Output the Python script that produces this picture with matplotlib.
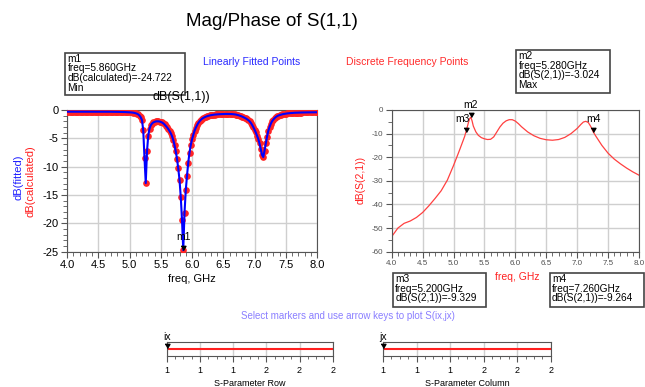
import numpy as np
import matplotlib.pyplot as plt
from matplotlib.patches import Rectangle
from matplotlib.ticker import MultipleLocator, FormatStrFormatter

plt.rcParams['font.family'] = ['Liberation Sans', 'DejaVu Sans']
plt.rcParams['axes.unicode_minus'] = False

W, H = 645, 387

# S(1,1): calculated points every 20 MHz from 4 to 8 GHz
freq11 = np.round(np.arange(4.0, 8.0001, 0.02), 2)
s11_db = [
    -0.30, -0.30, -0.30, -0.30, -0.30, -0.30, -0.30, -0.30, -0.30, -0.30,
    -0.30, -0.30, -0.30, -0.30, -0.30, -0.30, -0.30, -0.30, -0.30, -0.30,
    -0.30, -0.30, -0.30, -0.30, -0.30, -0.30, -0.30, -0.30, -0.30, -0.30,
    -0.31, -0.31, -0.31, -0.31, -0.31, -0.31, -0.32, -0.32, -0.32, -0.32,
    -0.33, -0.33, -0.34, -0.34, -0.35, -0.35, -0.36, -0.37, -0.38, -0.39,
    -0.40, -0.42, -0.44, -0.47, -0.52, -0.58, -0.66, -0.78, -0.98, -1.30,
    -1.80, -3.60, -8.50, -12.90, -7.30, -4.50, -3.30, -2.70, -2.40, -2.20,
    -2.10, -2.02, -2.00, -2.00, -2.03, -2.10, -2.20, -2.35, -2.55, -2.80,
    -3.05, -3.35, -3.70, -4.10, -4.60, -5.30, -6.20, -7.30, -8.60, -10.30,
    -12.30, -15.30, -19.40, -24.722, -18.20, -14.20, -11.60, -9.30, -7.50, -6.20,
    -5.20, -4.40, -3.70, -3.15, -2.70, -2.30, -2.00, -1.75, -1.55, -1.40,
    -1.28, -1.18, -1.10, -1.03, -0.97, -0.92, -0.88, -0.84, -0.81, -0.79,
    -0.77, -0.75, -0.74, -0.73, -0.72, -0.71, -0.70, -0.70, -0.70, -0.70,
    -0.70, -0.71, -0.72, -0.74, -0.77, -0.80, -0.85, -0.91, -0.98, -1.06,
    -1.15, -1.25, -1.36, -1.48, -1.62, -1.78, -1.98, -2.25, -2.60, -3.00,
    -3.45, -3.95, -4.50, -5.10, -5.90, -6.90, -7.90, -8.30, -7.20, -5.90,
    -4.70, -3.70, -3.00, -2.45, -2.00, -1.70, -1.45, -1.25, -1.10, -0.98,
    -0.90, -0.83, -0.77, -0.72, -0.68, -0.64, -0.61, -0.58, -0.56, -0.54,
    -0.52, -0.50, -0.49, -0.48, -0.47, -0.46, -0.45, -0.45, -0.44, -0.44,
    -0.43, -0.43, -0.42, -0.42, -0.42, -0.41, -0.41, -0.41, -0.40, -0.40,
    -0.40,
]

# S(2,1) discrete frequency points
freq21 = [4.00, 4.10, 4.20, 4.30, 4.40, 4.50, 4.60, 4.70, 4.80, 4.90,
          5.00, 5.06, 5.10, 5.14, 5.18, 5.20, 5.22, 5.24, 5.26, 5.28,
          5.30, 5.32, 5.36, 5.40, 5.45, 5.50, 5.55, 5.60, 5.65, 5.70,
          5.75, 5.80, 5.85, 5.90, 5.95, 6.00, 6.05, 6.10, 6.20, 6.30,
          6.40, 6.50, 6.60, 6.70, 6.80, 6.90, 7.00, 7.06, 7.10, 7.14,
          7.18, 7.22, 7.26, 7.30, 7.40, 7.50, 7.60, 7.70, 7.80, 7.90, 8.00]
s21_db = [-53.6, -50.0, -48.0, -47.0, -45.5, -43.4, -40.6, -37.5, -34.2, -29.7,
          -23.5, -19.5, -16.8, -14.0, -11.2, -9.329, -7.4, -5.4, -3.7, -3.024,
          -4.6, -6.8, -9.2, -10.7, -11.7, -12.2, -12.5, -12.4, -11.4, -9.3,
          -7.2, -5.6, -4.6, -4.1, -4.1, -4.7, -5.8, -7.1, -9.3, -10.9,
          -12.0, -12.6, -12.8, -12.5, -11.6, -10.0, -7.8, -6.1, -5.1, -4.8,
          -5.3, -7.0, -9.264, -11.0, -15.0, -18.3, -20.8, -22.8, -24.6, -26.2, -27.6]

markers11 = [('m1', 5.86, -24.722)]
markers21 = [('m2', 5.28, -3.024), ('m3', 5.20, -9.329), ('m4', 7.26, -9.264)]

slider_ticks = [1.0, 1.2, 1.4, 1.6, 1.8, 2.0]


def fx(px):
    return px / W


def fy(py):
    return 1 - py / H


def rect(x0, y0, x1, y1):
    return [fx(x0), fy(y1), (x1 - x0) / W, (y1 - y0) / H]


# triangle with its tip on the data point
tri = [(-1, 1.7), (1, 1.7), (0, 0)]

fig = plt.figure(figsize=(W / 100, H / 100), dpi=100)
fig.text(fx(272), fy(22), 'Mag/Phase of S(1,1)', fontsize=13.5, ha='center', va='center')

grid_col = '#cfcfcf'
spine_col = '#555555'

# --- left plot: S(1,1)
ax1 = fig.add_axes(rect(67, 110, 317, 251.7))
ax1.plot(freq11, s11_db, 'o', color='#ff2424', markersize=4.8, markeredgewidth=0, zorder=3)
ax1.plot(freq11, s11_db, '-', color='#0000ff', lw=1.5, zorder=4)
ax1.set_xlim(4, 8)
ax1.set_ylim(-25, 0)
ax1.xaxis.set_major_locator(MultipleLocator(0.5))
ax1.xaxis.set_minor_locator(MultipleLocator(0.1))
ax1.yaxis.set_major_locator(MultipleLocator(5))
ax1.yaxis.set_minor_locator(MultipleLocator(1))
ax1.xaxis.set_major_formatter(FormatStrFormatter('%.1f'))
ax1.grid(True, which='major', color=grid_col, lw=1)
ax1.tick_params(which='both', direction='out', labelsize=8, color=spine_col, pad=2)
ax1.tick_params(which='major', length=4)
ax1.tick_params(which='minor', length=3)
for sp in ax1.spines.values():
    sp.set_color(spine_col)
for name, f, v in markers11:
    ax1.plot(f, v, marker=tri, color='black', markersize=6, zorder=5, clip_on=False)
    ax1.text(f, v + 1.4, name, fontsize=7.5, ha='center', va='bottom', zorder=6)

fig.text(fx(192), fy(279), 'freq, GHz', fontsize=8, ha='center', va='center')
fig.text(fx(18), fy(177), 'dB(fitted)', color='#2020ff', fontsize=8,
         rotation=90, ha='center', va='center')
fig.text(fx(31), fy(181), 'dB(calculated)', color='#ff2020', fontsize=8,
         rotation=90, ha='center', va='center')

# --- right plot: S(2,1)
ax2 = fig.add_axes(rect(391.7, 110, 639, 251.7))
ax2.plot(freq21, s21_db, '-', color='#ff4040', lw=0.9)
ax2.set_xlim(4, 8)
ax2.set_ylim(-60, 0)
ax2.xaxis.set_major_locator(MultipleLocator(0.5))
ax2.xaxis.set_minor_locator(MultipleLocator(0.1))
ax2.yaxis.set_major_locator(MultipleLocator(10))
ax2.yaxis.set_minor_locator(MultipleLocator(5))
ax2.xaxis.set_major_formatter(FormatStrFormatter('%.1f'))
ax2.grid(True, which='major', color=grid_col, lw=1)
ax2.tick_params(which='both', direction='out', labelsize=5.8, labelcolor='#505050',
                color=spine_col, pad=2)
ax2.tick_params(which='major', length=4)
ax2.tick_params(which='minor', length=3)
for sp in ax2.spines.values():
    sp.set_color(spine_col)
for name, f, v in markers21:
    ax2.plot(f, v, marker=tri, color='black', markersize=6, zorder=5, clip_on=False)
    ax2.text(f - (0.06 if name == 'm3' else 0), v + 3.2, name, fontsize=7.5,
             ha='center', va='bottom', zorder=6)

fig.text(fx(517), fy(277), 'freq, GHz', color='#ff2020', fontsize=7.5, ha='center', va='center')
fig.text(fx(361), fy(180), 'dB(S(2,1))', color='#ff2020', fontsize=7.5,
         rotation=90, ha='center', va='center')

fig.text(fx(252), fy(62), 'Linearly Fitted Points', color='#2a2aff', fontsize=7.5,
         ha='center', va='center')
fig.text(fx(407), fy(62), 'Discrete Frequency Points', color='#ff2a2a', fontsize=7.5,
         ha='center', va='center')

# --- marker readout boxes
boxes = [
    ((65, 52.7, 185, 95), ['m1', 'freq=5.860GHz', 'dB(calculated)=-24.722', 'Min']),
    ((516, 50, 610, 92.7), ['m2', 'freq=5.280GHz', 'dB(S(2,1))=-3.024', 'Max']),
    ((392.7, 273, 485.7, 307), ['m3', 'freq=5.200GHz', 'dB(S(2,1))=-9.329']),
    ((549.5, 273, 643.5, 307), ['m4', 'freq=7.260GHz', 'dB(S(2,1))=-9.264']),
]
for (x0, y0, x1, y1), lines in boxes:
    fig.patches.append(Rectangle((fx(x0), fy(y1)), (x1 - x0) / W, (y1 - y0) / H,
                                 transform=fig.transFigure, facecolor='white',
                                 edgecolor='#444444', lw=1.2, zorder=1))
    fig.text(fx(x0 + 2.5), fy(y0 + 1), '\n'.join(lines), fontsize=7.3, ha='left', va='top',
             linespacing=0.95, zorder=2)

# curve title sits just under the m1 readout box
fig.text(fx(181), fy(97), 'dB(S(1,1))', fontsize=9, ha='center', va='center', zorder=3)

fig.text(fx(348), fy(316), 'Select markers and use arrow keys to plot S(ix,jx)',
         color='#8a7fff', fontsize=7, ha='center', va='center')

# --- index sliders
for x0, x1, label, name in [(166.7, 332.7, 'S-Parameter Row', 'ix'),
                            (383, 550.7, 'S-Parameter Column', 'jx')]:
    ax = fig.add_axes(rect(x0, 341.7, x1, 356))
    ax.set_xlim(1, 2)
    ax.set_ylim(0, 1)
    ax.axhline(0.5, color='#ff2020', lw=1.5)
    ax.set_xticks(slider_ticks)
    ax.xaxis.set_minor_locator(MultipleLocator(0.05))
    ax.xaxis.set_major_formatter(FormatStrFormatter('%.0f'))
    ax.set_yticks([])
    ax.grid(True, axis='x', which='major', color=grid_col, lw=1)
    ax.tick_params(which='both', direction='out', labelsize=6.5, color=spine_col, pad=3)
    ax.tick_params(which='major', length=4)
    ax.tick_params(which='minor', length=2.5)
    for sp in ax.spines.values():
        sp.set_color(spine_col)
    ax.plot(1, 0.55, marker=tri, color='black', markersize=6, clip_on=False, zorder=5)
    ax.text(1, 0.95, name, fontsize=7.5, ha='center', va='bottom')
    fig.text(fx((x0 + x1) / 2), fy(383), label, fontsize=6.5, ha='center', va='center')

fig.savefig('out.png', dpi=100)
